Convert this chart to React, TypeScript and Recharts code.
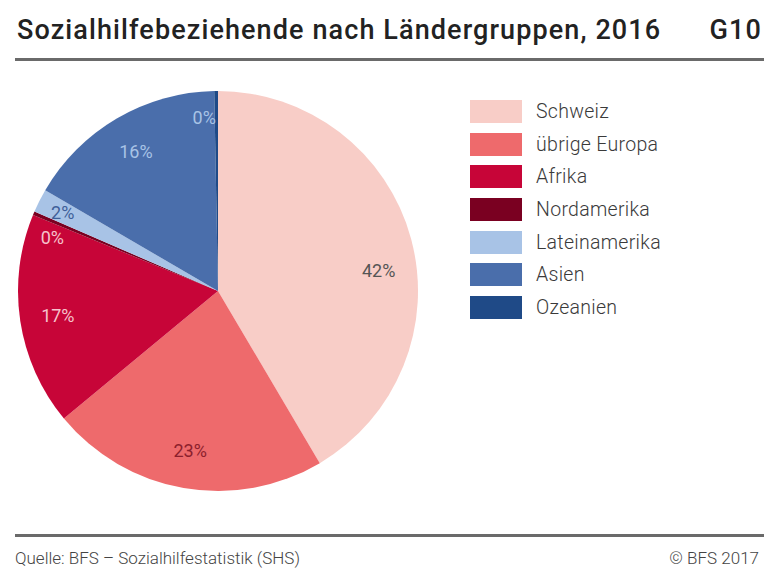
import { PieChart, Pie, Cell, Legend } from 'recharts';

// Sozialhilfebeziehende nach Ländergruppen, 2016 (BFS, G10)

const groups = ['Schweiz', 'übrige Europa', 'Afrika', 'Nordamerika', 'Lateinamerika', 'Asien', 'Ozeanien'];
const shares = [41.5, 22.5, 17.2, 0.3, 1.9, 16.3, 0.3];

const sliceColors = ['#f8cdc7', '#ee6a6c', '#c70538', '#7a0021', '#a8c3e6', '#4a6eab', '#1f4a87'];
const labelColors = ['#555555', '#8c1f2c', '#f6c2cc', '#f6c2cc', '#3f5f99', '#a8c3e6', '#a8c3e6'];

// small angular nudges (degrees) so labels sit where BFS put them
const labelNudge: Record<string, number> = { Schweiz: -8, Nordamerika: 5, Ozeanien: 4 };

const FONT = 'Roboto, "Noto Sans", sans-serif';
const RAD = Math.PI / 180;

const data = groups.map((name, i) => ({ name, value: shares[i] }));

function SliceLabel(props: any) {
  const { cx, cy, midAngle, outerRadius, value, name, index } = props;
  const angle = (midAngle + (labelNudge[name] ?? 0)) * RAD;
  const r = value >= 5 ? outerRadius * 0.81 : outerRadius * 0.87;
  const x = cx + r * Math.cos(angle);
  const y = cy - r * Math.sin(angle);
  return (
    <text
      x={x} y={y}
      fill={labelColors[index]}
      textAnchor="middle"
      dominantBaseline="central"
      style={{ fontFamily: FONT, fontSize: 18 }}
    >
      {`${Math.round(value)}%`}
    </text>
  );
}

function LegendBox() {
  return (
    <div style={{ fontFamily: FONT }}>
      {groups.map((g, i) => (
        <div key={g} style={{ display: 'flex', alignItems: 'center', height: 32.7 }}>
          <span style={{ width: 52, height: 23, background: sliceColors[i], display: 'inline-block' }} />
          <span style={{ marginLeft: 14, fontSize: 19.5, letterSpacing: 0.3, fontWeight: 300, color: '#3a3a3a' }}>{g}</span>
        </div>
      ))}
    </div>
  );
}

export default function App() {
  document.body.style.margin = '0';
  return (
    <div style={{ position: 'relative', width: 766, height: 570, background: '#fff', fontFamily: FONT, overflow: 'hidden' }}>
      <div style={{ position: 'absolute', left: 17, top: 14, fontSize: 27, letterSpacing: 1.1, fontWeight: 500, color: '#222' }}>
        Sozialhilfebeziehende nach Ländergruppen, 2016
      </div>
      <div style={{ position: 'absolute', right: 4, top: 14, fontSize: 27, letterSpacing: 1.1, fontWeight: 500, color: '#222' }}>G10</div>
      <div style={{ position: 'absolute', left: 15, width: 749, top: 58, height: 3, background: '#6a6a6a' }} />

      <div style={{ position: 'absolute', left: 0, top: 0 }}>
        <PieChart width={766} height={520} margin={{ top: 0, right: 0, bottom: 0, left: 0 }}>
          <Pie
            data={data}
            dataKey="value"
            nameKey="name"
            cx={218}
            cy={291}
            outerRadius={200}
            startAngle={90}
            endAngle={-270}
            stroke="none"
            label={SliceLabel}
            labelLine={false}
            isAnimationActive={false}
          >
            {data.map((d, i) => (
              <Cell key={d.name} fill={sliceColors[i]} />
            ))}
          </Pie>
          <Legend
            content={<LegendBox />}
            wrapperStyle={{ position: 'absolute', left: 470, top: 95, width: 280 }}
          />
        </PieChart>
      </div>

      <div style={{ position: 'absolute', left: 15, width: 749, top: 534, height: 3, background: '#6a6a6a' }} />
      <div style={{ position: 'absolute', left: 15, top: 548, fontSize: 17, fontWeight: 300, color: '#444' }}>
        Quelle: BFS – Sozialhilfestatistik (SHS)
      </div>
      <div style={{ position: 'absolute', right: 7, top: 548, fontSize: 17, fontWeight: 300, color: '#444' }}>© BFS 2017</div>
    </div>
  );
}
